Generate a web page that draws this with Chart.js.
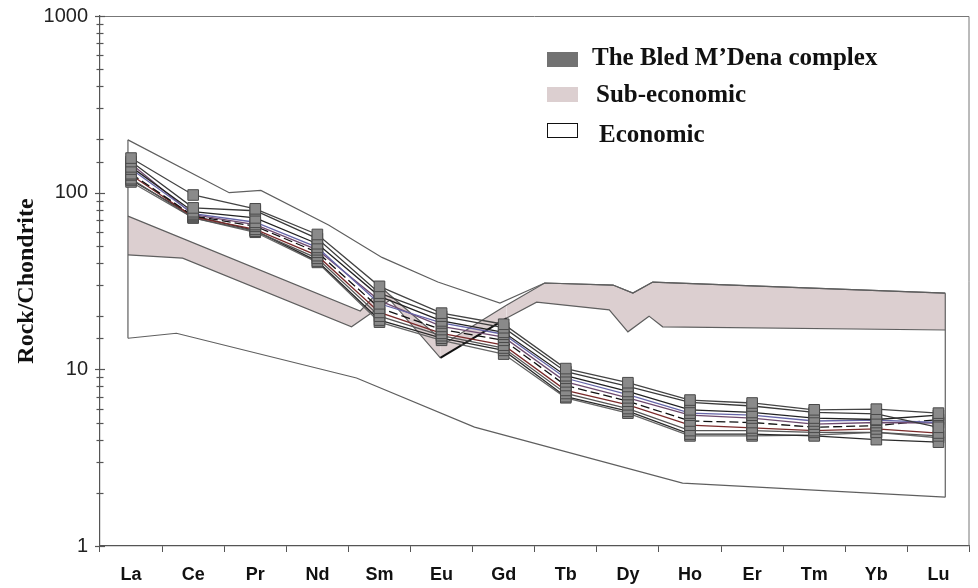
<!DOCTYPE html>
<html>
<head>
<meta charset="utf-8">
<title>REE chondrite-normalised pattern</title>
<script src="https://cdn.jsdelivr.net/npm/chart.js@4.4.1/dist/chart.umd.min.js"></script>
<style>
  html, body { margin: 0; padding: 0; background: #fff; }
  #wrap { position: relative; width: 978px; height: 588px; }
  #reeChart { display: block; }
  .key { position: absolute; left: 547px; width: 31px; height: 15px; box-sizing: border-box; }
  .key-label {
    position: absolute; left: 592px; white-space: nowrap; color: #111;
    font: bold 25px "Liberation Serif", "Times New Roman", serif; line-height: 25px;
  }
</style>
</head>
<body>
<div id="wrap">
  <canvas id="reeChart" width="978" height="588"></canvas>
  <div class="key" style="top:52px; background:#727272;"></div>
  <div class="key-label" style="top:44px;">The Bled M’Dena complex</div>
  <div class="key" style="top:87px; background:#dccfd0;"></div>
  <div class="key-label" style="top:81px; left:596px;">Sub-economic</div>
  <div class="key" style="top:123px; background:#fff; border:1.5px solid #111;"></div>
  <div class="key-label" style="top:121px; left:599px;">Economic</div>
</div>
<script>
// rare earth elements, La -> Lu (x = 1..14)
const ELEMENTS = ['La', 'Ce', 'Pr', 'Nd', 'Sm', 'Eu', 'Gd', 'Tb', 'Dy', 'Ho', 'Er', 'Tm', 'Yb', 'Lu'];

// Bled M'Dena samples, rock / chondrite
const BM1  = [157, 97, 81, 58, 29.5, 20.8, 18.0, 10.1, 8.4, 6.7, 6.45, 5.9, 5.95, 5.65];
const BM2  = [150, 82, 79, 55, 27, 20, 17.2, 9.7, 8.0, 6.5, 6.2, 5.7, 5.6, 4.7];
const BM3  = [140, 78, 72, 51.4, 25.9, 18.8, 16.2, 9.2, 7.5, 5.9, 5.7, 5.3, 5.2, 5.5];
const BM4  = [136, 76, 68, 49, 23.5, 18.3, 15.8, 8.9, 7.2, 5.65, 5.5, 5.1, 5.16, 5.0];
const BM5  = [146, 75, 66, 47.5, 24.5, 17.5, 15.2, 8.5, 6.9, 5.5, 5.3, 4.9, 5.0, 4.97];
const BM6  = [128, 74, 64.5, 46, 22.2, 16.8, 14.6, 8.1, 6.6, 5.1, 5.0, 4.7, 4.8, 5.2];
const BM7  = [126, 73, 62, 44, 21, 16.0, 13.7, 7.6, 6.3, 4.83, 4.66, 4.5, 4.6, 4.36];
const BM8  = [120, 72, 60.5, 42.5, 20, 15.5, 13.2, 7.3, 6.0, 4.5, 4.5, 4.4, 4.4, 4.2];
const BM9  = [118, 74, 61, 41, 19, 15.0, 12.8, 7.0, 5.8, 4.3, 4.3, 4.2, 4.0, 3.87];
const BM10 = [115, 72, 59.7, 40.3, 18.5, 14.6, 12.2, 6.9, 5.65, 4.2, 4.2, 4.25, 4.4, 4.1];

// sub-economic field outline (x in element units, y rock/chondrite)
const subUpperX = [0.95, 4.69, 5.04, 6.06, 7.05, 7.66, 8.76, 9.08, 9.40, 14.11];
const subUpperY = [73.7, 21.4, 28.8, 14.1, 23.1, 30.8, 30.0, 27.0, 31.2, 27.0];
const subLowerX = [0.95, 1.83, 4.55, 5.17, 5.98, 7.05, 7.53, 8.70, 9.00, 9.34, 9.56, 14.11];
const subLowerY = [44.4, 42.6, 17.4, 24.7, 11.6, 19.5, 24.0, 21.7, 16.3, 20.0, 17.4, 16.7];

// economic field outline
const ecoUpperX = [0.95, 2.58, 3.09, 4.18, 5.04, 5.94, 6.94, 7.66, 8.76, 9.08, 9.40, 14.11];
const ecoUpperY = [199, 100, 103, 65.6, 43, 31.2, 23.7, 30.8, 30.0, 27.0, 31.2, 27.0];
const ecoLowerX = [0.95, 1.73, 4.63, 6.53, 9.88, 14.11];
const ecoLowerY = [15.0, 16.0, 8.93, 4.71, 2.27, 1.89];

const samples = [BM1, BM2, BM3, BM4, BM5, BM6, BM7, BM8, BM9, BM10];
const sampleColors = ['#444', '#3a3a3a', '#222', '#6565a8', '#6e4a6e', '#111', '#7a2a2a', '#555', '#2b2b2b', '#666'];

const toPoints = (xs, ys) => xs.map((x, i) => ({ x: x, y: ys[i] }));
const onElements = ys => ys.map((y, i) => ({ x: i + 1, y: y }));
const isDecade = v => Math.abs(Math.log10(v) - Math.round(Math.log10(v))) < 1e-6;

const outline = { borderColor: '#5f5f5f', borderWidth: 1.2, pointRadius: 0, tension: 0 };

const fieldSets = [
    { label: 'Sub-economic', data: toPoints(subUpperX, subUpperY), ...outline,
      backgroundColor: '#dccfd0', fill: '+1', order: 11 },
    { label: 'sub-low', data: toPoints(subLowerX, subLowerY), ...outline, fill: false, order: 10,
      // Eu -> Gd edge of the field is drawn heavier
      segment: {
          borderColor: c => (c.p0.parsed.x > 5.9 && c.p0.parsed.x < 6.1) ? '#111' : undefined,
          borderWidth: c => (c.p0.parsed.x > 5.9 && c.p0.parsed.x < 6.1) ? 2 : undefined
      } },
    { label: 'Economic', data: toPoints(ecoUpperX, ecoUpperY), ...outline, fill: false, order: 10 },
    { label: 'eco-low', data: toPoints(ecoLowerX, ecoLowerY), ...outline, fill: false, order: 10 },
    { label: 'eco-left', data: [{ x: ecoLowerX[0], y: ecoLowerY[0] }, { x: ecoUpperX[0], y: ecoUpperY[0] }],
      ...outline, fill: false, order: 10 },
    { label: 'eco-right', data: [{ x: ecoLowerX[ecoLowerX.length - 1], y: ecoLowerY[ecoLowerY.length - 1] },
                                 { x: ecoUpperX[ecoUpperX.length - 1], y: ecoUpperY[ecoUpperY.length - 1] }],
      ...outline, fill: false, order: 10 }
];

const sampleSets = samples.map((s, i) => ({
    label: 'BM' + (i + 1),
    data: onElements(s),
    borderColor: sampleColors[i],
    borderWidth: 1.3,
    borderDash: i === 5 ? [9, 4] : [],
    pointStyle: 'rect',
    pointRadius: 7.5,
    pointBackgroundColor: '#8a8a8a',
    pointBorderColor: '#4a4a4a',
    pointBorderWidth: 1,
    fill: false,
    tension: 0,
    order: 1
}));

// top/right frame of the plot box
const framePlugin = {
    id: 'frame',
    beforeDatasetsDraw(chart) {
        const { ctx, chartArea: { left, top, right, bottom } } = chart;
        ctx.save();
        ctx.strokeStyle = '#777';
        ctx.lineWidth = 1;
        ctx.beginPath();
        ctx.moveTo(left, top + 0.5);
        ctx.lineTo(right - 0.5, top + 0.5);
        ctx.lineTo(right - 0.5, bottom);
        ctx.stroke();
        ctx.restore();
    }
};

// log axis tick marks that cross the axis line, longer at each decade
const logTicksPlugin = {
    id: 'logTicks',
    afterDraw(chart) {
        const y = chart.scales.y;
        const { ctx } = chart;
        const x0 = y.right;
        ctx.save();
        ctx.strokeStyle = '#555';
        ctx.lineWidth = 1.2;
        y.ticks.forEach(t => {
            const py = Math.round(y.getPixelForValue(t.value)) + 0.5;
            const len = isDecade(t.value) ? 5 : 3.5;
            ctx.beginPath();
            ctx.moveTo(x0 - len, py);
            ctx.lineTo(x0 + len, py);
            ctx.stroke();
        });
        ctx.restore();
    }
};

new Chart(document.getElementById('reeChart'), {
    type: 'line',
    data: { datasets: sampleSets.concat(fieldSets) },
    options: {
        responsive: false,
        animation: false,
        layout: { padding: { top: 16, right: 2, left: 0, bottom: 0 } },
        plugins: { legend: { display: false }, tooltip: { enabled: false } },
        scales: {
            x: { type: 'linear', min: 0.5, max: 14.5, display: false },
            xc: {
                type: 'category', labels: ELEMENTS, position: 'bottom', offset: true,
                afterFit: s => { s.height = 42; s.paddingLeft = 0; s.paddingRight = 0; },
                border: { color: '#555', width: 1.2 },
                grid: { offset: true, drawOnChartArea: false, drawTicks: true, tickLength: 6, color: '#555' },
                ticks: { padding: 12, color: '#111', autoSkip: false, maxRotation: 0,
                         font: { family: 'Liberation Sans, Arial, sans-serif', size: 18, weight: 'bold' } }
            },
            y: {
                type: 'logarithmic', min: 1, max: 1000,
                // fixed axis width; no extra room for the top label
                afterFit: s => { s.width = 100; s.paddingTop = 0; s.paddingBottom = 0; },
                border: { color: '#555', width: 1.2 },
                grid: { drawOnChartArea: false, drawTicks: false },
                ticks: { autoSkip: false, padding: 12, color: '#222',
                         font: { family: 'Liberation Sans, Arial, sans-serif', size: 20 },
                         callback: v => isDecade(v) ? String(v) : '' },
                title: { display: true, text: 'Rock/Chondrite', color: '#111',
                         padding: { top: 12, bottom: 0 },
                         font: { family: 'Liberation Serif, Times New Roman, serif', size: 24, weight: 'bold' } }
            }
        }
    },
    plugins: [framePlugin, logTicksPlugin]
});
</script>
</body>
</html>
